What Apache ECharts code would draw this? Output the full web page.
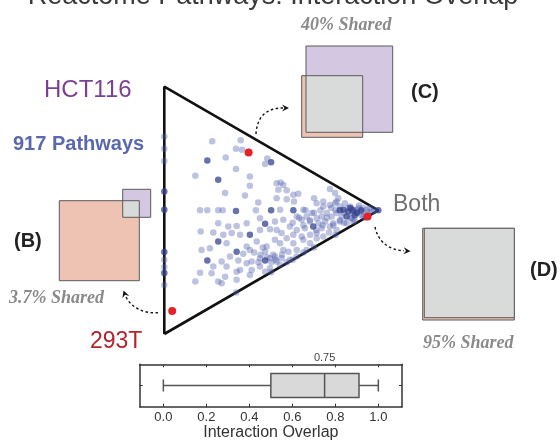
<!DOCTYPE html>
<html>
<head>
<meta charset="utf-8">
<script src="https://cdn.jsdelivr.net/npm/echarts@6/dist/echarts.min.js"></script>
</head>
<body style="margin: 0">
<div id="container" style="width: 560px; height: 447px;"></div>
<script type="text/javascript">
// x = interaction overlap (share of interactions seen in both lines)
// y = position between 293T (0) and HCT116 (1) for the non-shared part
var pathways = [
    [0.224,0.779],[0.357,0.783],[0.335,0.749],[0.363,0.745],[0.287,0.714],[0.481,0.710],[0.471,0.687],
    [0.335,0.667],[0.145,0.640],[0.400,0.637],[0.400,0.599],[0.525,0.610],[0.544,0.613],[0.556,0.603],
    [0.774,0.586],[0.284,0.570],[0.377,0.560],[0.533,0.583],[0.572,0.581],[0.603,0.563],[0.626,0.567],
    [0.525,0.549],[0.572,0.545],[0.606,0.536],[0.700,0.549],[0.743,0.536],[0.798,0.570],[0.813,0.549],
    [0.439,0.532],[0.167,0.500],[0.201,0.500],[0.252,0.500],[0.273,0.500],[0.428,0.500],[0.541,0.502],
    [0.650,0.502],[0.712,0.529],[0.743,0.516],[0.774,0.522],[0.798,0.529],[0.821,0.516],[0.883,0.502],
    [0.899,0.489],[0.922,0.495],[0.946,0.502],[0.969,0.495],[0.805,0.489],[0.829,0.475],[0.876,0.468],
    [0.782,0.475],[0.759,0.489],[0.735,0.475],[0.712,0.468],[0.689,0.489],[0.665,0.475],[0.868,0.516],
    [0.907,0.509],[0.844,0.529],[0.805,0.536],[0.930,0.475],[0.883,0.455],[0.852,0.448],[0.821,0.455],
    [0.790,0.448],[0.751,0.455],[0.720,0.448],[0.681,0.455],[0.642,0.462],[0.619,0.475],[0.170,0.414],
    [0.252,0.448],[0.299,0.435],[0.338,0.437],[0.385,0.448],[0.447,0.468],[0.517,0.455],[0.556,0.462],
    [0.587,0.435],[0.619,0.421],[0.657,0.428],[0.735,0.428],[0.774,0.435],[0.805,0.421],[0.712,0.408],
    [0.681,0.401],[0.642,0.394],[0.603,0.401],[0.548,0.408],[0.525,0.421],[0.494,0.424],[0.447,0.421],
    [0.354,0.401],[0.315,0.408],[0.276,0.401],[0.229,0.410],[0.291,0.367],[0.174,0.340],[0.213,0.347],
    [0.385,0.354],[0.400,0.340],[0.432,0.374],[0.478,0.354],[0.517,0.381],[0.541,0.367],[0.572,0.387],
    [0.603,0.367],[0.650,0.381],[0.681,0.367],[0.712,0.387],[0.743,0.394],[0.619,0.340],[0.580,0.333],
    [0.556,0.340],[0.509,0.320],[0.471,0.333],[0.369,0.324],[0.307,0.313],[0.268,0.293],[0.346,0.297],
    [0.385,0.286],[0.408,0.293],[0.447,0.306],[0.494,0.306],[0.517,0.313],[0.525,0.293],[0.548,0.306],
    [0.587,0.300],[0.619,0.313],[0.650,0.330],[0.665,0.340],[0.167,0.248],[0.229,0.273],[0.291,0.273],
    [0.338,0.252],[0.354,0.259],[0.408,0.259],[0.447,0.273],[0.471,0.252],[0.494,0.266],[0.541,0.279],
    [0.572,0.290],[0.145,0.212],[0.221,0.246],[0.252,0.212],[0.268,0.205],[0.284,0.232],[0.338,0.219],
    [0.400,0.239],
    [0.88,0.49],[0.90,0.50],[0.91,0.52],[0.93,0.51],[0.95,0.49],[0.96,0.51],[0.86,0.51],[0.84,0.49],
    [0.87,0.47],[0.89,0.46],[0.92,0.48],[0.80,0.50],[0.78,0.51],[0.82,0.46],[0.76,0.47],[0.73,0.50],
    [0.70,0.49],[0.68,0.46],[0.74,0.44],[0.79,0.44],[0.84,0.45],[0.98,0.50],[0.94,0.47],[0.66,0.50],
    [0.63,0.47],[0.77,0.41],[0.71,0.42],[0.65,0.44],[0.60,0.45],
    [0.45,0.32],[0.48,0.31],[0.50,0.29],[0.44,0.29],[0.52,0.30],[0.46,0.35],[0.42,0.33],[0.55,0.32],
    [0,0.799],[0,0.749],[0,0.70],[0,0.271],[0,0.30],[0,0.198],
    [0.336,0.168],[0.50,0.25],[0.60,0.30],[0.70,0.35],[0.80,0.40]
];
// positions shared by several pathways (drawn darker)
var pathwaysStacked = [
    [0.201,0.702],[0.499,0.695],[0.252,0.624],[0.335,0.497],[0.499,0.500],[0.603,0.500],[0.837,0.502],
    [0.860,0.495],[0.852,0.475],[0.471,0.446],[0.696,0.435],[0.400,0.401],[0.252,0.374],[0.338,0.333],
    [0.201,0.297],[0.471,0.297],[1,0.5],[0,0.502],[0,0.332],[0,0.576],[0,0.247],
    [0.88,0.50],[0.90,0.49],[0.87,0.51],[0.92,0.50],[0.89,0.48],[0.82,0.50]
];
var examples = [[0.037,0.093],[0.394,0.734],[0.950,0.475]];
var triangle = [[0,0],[0,1],[1,0.5],[0,0]];
var overlapStats = [0.0, 0.5, 0.75, 0.91, 1.0];   // min, q1, median, q3, max
var overlapTicks = [0, 0.2, 0.4, 0.6, 0.8, 1.0];

var dom = document.getElementById('container');
var myChart = echarts.init(dom);

var SANS = '"Liberation Sans", Arial, sans-serif';
var SERIF = '"Liberation Serif", "Times New Roman", serif';

function label(text, x, y, font, fill, align) {
    return {type: 'text', silent: true, style: {text: text, x: x, y: y, font: font, fill: fill,
        align: align || 'left', verticalAlign: 'middle'}};
}
function box(x, y, w, h, fill, stroke) {
    return {type: 'rect', silent: true, shape: {x: x, y: y, width: w, height: h},
        style: {fill: fill || 'none', stroke: stroke || null, lineWidth: 1}};
}
function arrow(p, tip, ang) {
    var c = Math.cos(ang), s = Math.sin(ang), L = 7, W = 3.6;
    return [
        {type: 'bezierCurve', silent: true,
            shape: {x1: p[0], y1: p[1], cpx1: p[2], cpy1: p[3], cpx2: p[4], cpy2: p[5], x2: p[6], y2: p[7]},
            style: {stroke: '#111', lineWidth: 1.4, lineDash: [2.5, 2.5], fill: 'none'}},
        {type: 'polygon', silent: true, shape: {points: [
            [tip[0], tip[1]],
            [tip[0] - L * c - W * s, tip[1] - L * s + W * c],
            [tip[0] - (L - 2.5) * c, tip[1] - (L - 2.5) * s],
            [tip[0] - L * c + W * s, tip[1] - L * s - W * c]
        ]}, style: {fill: '#111'}}
    ];
}

var peach = '#efc3b4', lilac = '#d4c7e2', both = '#d9dbdb', edge = '#5a5a5a';

var graphics = [
    label('Reactome Pathways: Interaction Overlap', 273, -3, '27px ' + SANS, '#3a3a3a', 'center'),
    label('HCT116', 44, 90, '24px ' + SANS, '#7b3f96'),
    label('917 Pathways', 13, 144, 'bold 20px ' + SANS, '#5a68ad'),
    label('293T', 90, 342, '23px ' + SANS, '#b3242c'),
    label('Both', 393, 205, '23px ' + SANS, '#707070'),
    label('(B)', 14, 241, 'bold 20px ' + SANS, '#222'),
    label('(C)', 411, 92, 'bold 20px ' + SANS, '#222'),
    label('(D)', 530, 270, 'bold 20px ' + SANS, '#222'),
    label('3.7% Shared', 9, 298, 'italic bold 18px ' + SERIF, '#8a8a8a'),
    label('40% Shared', 301, 25, 'italic bold 18px ' + SERIF, '#8a8a8a'),
    label('95% Shared', 423, 343, 'italic bold 18px ' + SERIF, '#8a8a8a'),
    // (B)
    box(59.3, 200.7, 80, 80, peach),
    box(122.7, 189.3, 28, 28, lilac),
    box(122.7, 200.7, 16.6, 16.6, both),
    box(59.3, 200.7, 80, 80, null, edge),
    box(122.7, 189.3, 28, 28, null, edge),
    // (C)
    box(306, 46, 86.7, 86.3, lilac),
    box(301.7, 75.7, 61, 61.6, peach),
    box(306, 75.7, 56.7, 56.6, both),
    box(306, 46, 86.7, 86.3, null, edge),
    box(301.7, 75.7, 61, 61.6, null, edge),
    // (D)
    box(422.7, 228.3, 91.6, 91.7, peach, edge),
    box(424.3, 228.3, 90, 89.4, both, edge)
].concat(
    arrow([256, 134, 257, 117, 266, 108, 283, 108], [289, 108], 0),
    arrow([158, 312.7, 142, 314, 130, 306, 125.5, 296], [123.5, 290.5], Math.atan2(-7, -2.5)),
    arrow([375, 227, 378, 241, 388, 250, 404, 250.8], [410.5, 251.3], 0.08)
);

var frameLine = {show: true, onZero: false, lineStyle: {color: '#333', width: 1.5}};

option = {
    animation: false,
    grid: [
        {left: 164.3, top: 86.7, width: 214, height: 247.3},
        {left: 139.7, top: 364.3, width: 262.3, height: 42.4}
    ],
    xAxis: [
        {gridIndex: 0, type: 'value', min: 0, max: 1, show: false},
        {gridIndex: 1, type: 'value', min: -0.11, max: 1.11, position: 'bottom',
            axisLine: frameLine,
            axisTick: {show: true, inside: true, length: 3, lineStyle: {color: '#333'}, customValues: overlapTicks},
            axisLabel: {customValues: overlapTicks, margin: 4, fontSize: 13, color: '#333', fontFamily: SANS,
                formatter: function (v) { return v.toFixed(1); }},
            splitLine: {show: false},
            name: 'Interaction Overlap', nameLocation: 'middle', nameGap: 13,
            nameTextStyle: {fontSize: 16, color: '#333', fontFamily: SANS}},
        {gridIndex: 1, type: 'value', min: -0.11, max: 1.11, position: 'top',
            axisLine: frameLine,
            axisTick: {show: true, inside: true, length: 3, lineStyle: {color: '#333'}, customValues: overlapTicks},
            axisLabel: {show: false}, splitLine: {show: false}}
    ],
    yAxis: [
        {gridIndex: 0, type: 'value', min: 0, max: 1, show: false},
        {gridIndex: 1, type: 'category', data: ['overlap'], position: 'left',
            axisLine: frameLine, axisTick: {show: true, inside: true, length: 3, alignWithLabel: true, lineStyle: {color: '#333'}},
            axisLabel: {show: false}},
        {gridIndex: 1, type: 'category', data: ['overlap'], position: 'right',
            axisLine: frameLine, axisTick: {show: true, inside: true, length: 3, alignWithLabel: true, lineStyle: {color: '#333'}},
            axisLabel: {show: false}}
    ],
    series: [
        {
            name: 'frame',
            type: 'line',
            xAxisIndex: 0, yAxisIndex: 0,
            data: triangle,
            symbol: 'none',
            clip: false,
            silent: true,
            lineStyle: {color: '#111', width: 2.6},
            z: 1
        },
        {
            name: 'pathways',
            type: 'scatter',
            xAxisIndex: 0, yAxisIndex: 0,
            data: pathways,
            symbolSize: 6.5,
            clip: false,
            itemStyle: {color: '#4e5eab', opacity: 0.38},
            z: 2
        },
        {
            name: 'stacked',
            type: 'scatter',
            xAxisIndex: 0, yAxisIndex: 0,
            data: pathwaysStacked,
            symbolSize: 6.5,
            clip: false,
            itemStyle: {color: '#34428f', opacity: 0.75},
            z: 3
        },
        {
            name: 'examples',
            type: 'scatter',
            xAxisIndex: 0, yAxisIndex: 0,
            data: examples,
            symbolSize: 8,
            clip: false,
            itemStyle: {color: '#e42228', opacity: 1},
            z: 4
        },
        {
            name: 'overlap',
            type: 'custom',
            xAxisIndex: 1, yAxisIndex: 1,
            data: [[0].concat(overlapStats)],
            encode: {y: 0, x: [1, 2, 3, 4, 5]},
            renderItem: function (params, api) {
                var yc = api.coord([api.value(1), 0])[1];
                var h = api.size([0, 1])[1] * 0.57;
                var px = [1, 2, 3, 4, 5].map(function (d) { return api.coord([api.value(d), 0])[0]; });
                var ln = {stroke: '#555', lineWidth: 1.5};
                return {type: 'group', children: [
                    {type: 'line', shape: {x1: px[0], y1: yc, x2: px[1], y2: yc}, style: ln},
                    {type: 'line', shape: {x1: px[3], y1: yc, x2: px[4], y2: yc}, style: ln},
                    {type: 'line', shape: {x1: px[0], y1: yc - h / 4, x2: px[0], y2: yc + h / 4}, style: ln},
                    {type: 'line', shape: {x1: px[4], y1: yc - h / 4, x2: px[4], y2: yc + h / 4}, style: ln},
                    {type: 'rect', shape: {x: px[1], y: yc - h / 2, width: px[3] - px[1], height: h},
                        style: {fill: '#d9d9d9', stroke: '#555', lineWidth: 1.5}},
                    {type: 'line', shape: {x1: px[2], y1: yc - h / 2, x2: px[2], y2: yc + h / 2}, style: ln},
                    {type: 'text', style: {text: api.value(3).toFixed(2), x: px[2], y: params.coordSys.y - 1,
                        align: 'center', verticalAlign: 'bottom', font: '11px ' + SANS, fill: '#444'}}
                ]};
            }
        }
    ],
    graphic: graphics
};
myChart.setOption(option, true);
</script>
</body>
</html>
